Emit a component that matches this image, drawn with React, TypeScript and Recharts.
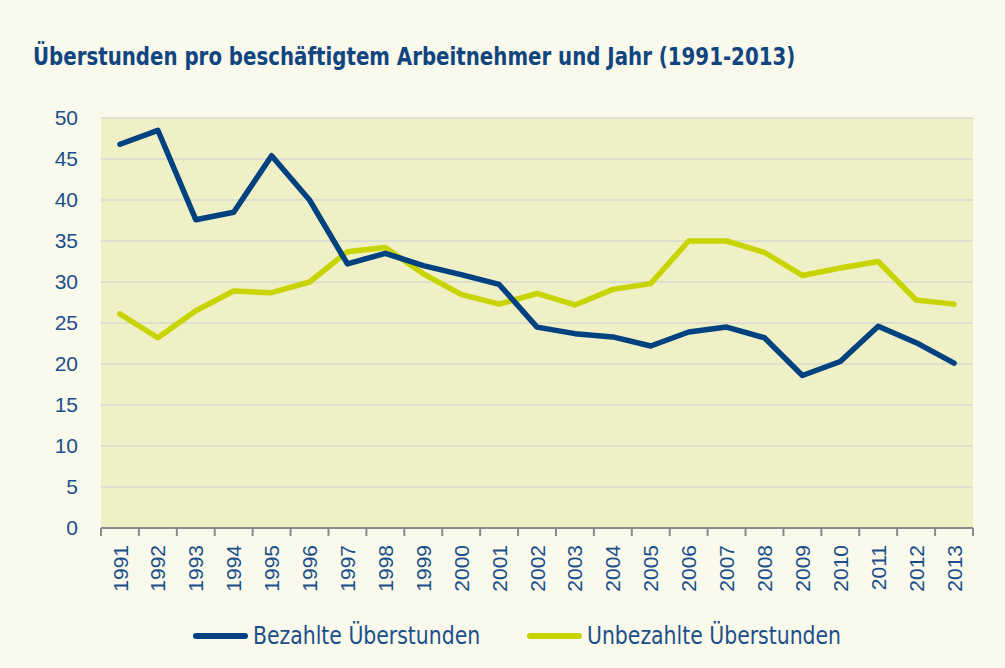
import React from 'react';
import { LineChart, Line, XAxis, YAxis, CartesianGrid } from 'recharts';

const years = ['1991','1992','1993','1994','1995','1996','1997','1998','1999','2000','2001','2002','2003','2004','2005','2006','2007','2008','2009','2010','2011','2012','2013'];
const bezahlte = [46.8, 48.5, 37.6, 38.5, 45.4, 40.0, 32.2, 33.5, 32.0, 30.9, 29.7, 24.5, 23.7, 23.3, 22.2, 23.9, 24.5, 23.2, 18.6, 20.3, 24.6, 22.6, 20.1];
const unbezahlte = [26.1, 23.2, 26.5, 28.9, 28.7, 30.0, 33.7, 34.2, 31.0, 28.5, 27.3, 28.6, 27.2, 29.1, 29.8, 35.0, 35.0, 33.6, 30.8, 31.7, 32.5, 27.8, 27.3];
const yTicks = [0, 5, 10, 15, 20, 25, 30, 35, 40, 45, 50];

const data = years.map((y, i) => ({ year: y, bez: bezahlte[i], unbez: unbezahlte[i] }));

const TEXT_BLUE = '#1b4f8a';
const BLUE = '#00427f';
const YELLOW = '#c8d400';
const AXIS_GRAY = '#8a8a8a';
const NARROW = '"Liberation Sans Narrow", "DejaVu Sans Condensed", "Liberation Sans", sans-serif';

const XTick = (props: any) => {
  const { x, y, payload, index, visibleTicksCount } = props;
  const half = payload && payload.offset ? payload.offset : 0;
  const isLast = index === (visibleTicksCount ?? years.length) - 1;
  return (
    <g transform={`translate(${x},${y})`}>
      <line x1={-half} x2={-half} y1={0} y2={8} stroke={AXIS_GRAY} strokeWidth={2} />
      {isLast && <line x1={half} x2={half} y1={0} y2={8} stroke={AXIS_GRAY} strokeWidth={2} />}
      <text
        transform="rotate(-90)"
        x={-17}
        y={0}
        dy="0.36em"
        textAnchor="end"
        fill={TEXT_BLUE}
        fontSize={21}
        fontFamily='"Liberation Sans", Arial, sans-serif'
      >
        {payload.value}
      </text>
    </g>
  );
};

export default function App() {
  return (
    <div
      style={{
        position: 'absolute',
        left: 0,
        top: 0,
        width: 1005,
        height: 668,
        background: '#f9f9ec',
        overflow: 'hidden',
      }}
    >
      <div
        style={{
          position: 'absolute',
          left: 33,
          top: 42,
          fontFamily: NARROW,
          fontWeight: 700,
          fontSize: 25,
          color: '#11457f',
          whiteSpace: 'nowrap',
          transform: 'scaleX(0.88)',
          transformOrigin: 'left center',
        }}
      >
        Überstunden pro beschäftigtem Arbeitnehmer und Jahr (1991-2013)
      </div>
      <LineChart
        width={1005}
        height={668}
        data={data}
        margin={{ top: 118, right: 32, left: 0, bottom: 80 }}
      >
        <CartesianGrid
          vertical={false}
          horizontal={true}
          stroke="#d8d8d0"
          strokeWidth={1.5}
          fill="#f0f0c6"
          fillOpacity={1}
        />
        <XAxis
          dataKey="year"
          scale="band"
          interval={0}
          height={60}
          tickSize={0}
          tickMargin={0}
          axisLine={{ stroke: AXIS_GRAY, strokeWidth: 2 }}
          tickLine={false}
          tick={<XTick />}
        />
        <YAxis
          domain={[0, 50]}
          ticks={yTicks}
          width={101}
          axisLine={false}
          tickLine={false}
          tickSize={6}
          tickMargin={17}
          tick={{ fill: TEXT_BLUE, fontSize: 21, fontFamily: '"Liberation Sans", Arial, sans-serif' }}
          interval={0}
        />
        <Line
          type="linear"
          dataKey="unbez"
          stroke={YELLOW}
          strokeWidth={5.5}
          dot={false}
          strokeLinecap="round"
          strokeLinejoin="round"
          isAnimationActive={false}
        />
        <Line
          type="linear"
          dataKey="bez"
          stroke={BLUE}
          strokeWidth={5.5}
          dot={false}
          strokeLinecap="round"
          strokeLinejoin="round"
          isAnimationActive={false}
        />
      </LineChart>
      <div
        style={{
          position: 'absolute',
          left: 0,
          top: 619,
          width: 1005,
          fontFamily: NARROW,
          fontSize: 24,
          color: TEXT_BLUE,
        }}
      >
        <div style={{ position: 'absolute', left: 193, top: 0, display: 'flex', alignItems: 'center', height: 34, whiteSpace: 'nowrap' }}>
          <div style={{ width: 55, height: 6, borderRadius: 3, background: BLUE, marginRight: 5 }} />
          <span style={{ display: 'inline-block', transform: 'scaleX(0.945)', transformOrigin: 'left center' }}>Bezahlte Überstunden</span>
        </div>
        <div style={{ position: 'absolute', left: 527, top: 0, display: 'flex', alignItems: 'center', height: 34, whiteSpace: 'nowrap' }}>
          <div style={{ width: 55, height: 6, borderRadius: 3, background: YELLOW, marginRight: 5 }} />
          <span style={{ display: 'inline-block', transform: 'scaleX(0.945)', transformOrigin: 'left center' }}>Unbezahlte Überstunden</span>
        </div>
      </div>
    </div>
  );
}
